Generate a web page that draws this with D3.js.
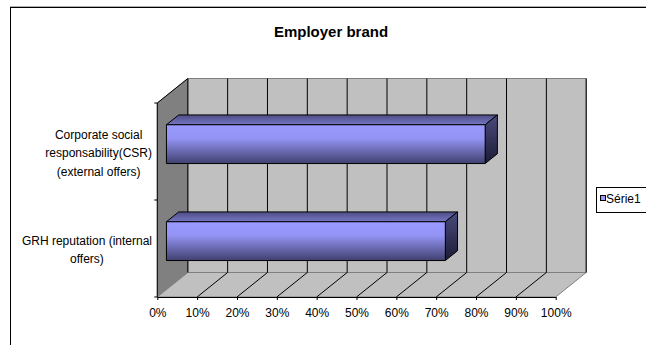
<!DOCTYPE html>
<html>
<head>
<meta charset="utf-8">
<script src="https://cdn.jsdelivr.net/npm/d3@7"></script>
<style>
  html, body { margin: 0; padding: 0; background: #fff; }
  svg { display: block; font-family: "Liberation Sans", Arial, sans-serif; }
</style>
</head>
<body>
<svg id="chart" width="646" height="345"></svg>
<script>
// Chart data
const title = "Employer brand";
const categories = [
  "GRH reputation (internal offers)",
  "Corporate social responsability(CSR) (external offers)"
];
const categoryLines = [
  ["GRH reputation (internal", "offers)"],
  ["Corporate social", "responsability(CSR)", "(external offers)"]
];
const seriesName = "Série1";
const values = [0.70, 0.80];
const xTicks = [0, 0.1, 0.2, 0.3, 0.4, 0.5, 0.6, 0.7, 0.8, 0.9, 1.0];

const svg = d3.select("#chart");

// Plot frame (front plane) and 3D depth offset
const front = { left: 157.3, right: 555.7, top: 103, bottom: 297 };
const DX = 30.5, DY = -24.5;
const barDepth = [0.3, 0.7];

const x = d3.scaleLinear().domain([0, 1]).range([front.left, front.right]);
// first category sits at the bottom
const y = d3.scaleBand()
  .domain(categories.slice().reverse())
  .range([front.top, front.bottom])
  .paddingInner(0.6)
  .paddingOuter(0.3);

const P = (px, py, d) => [px + d * DX, py + d * DY];
const poly = pts => pts.map(p => p.join(",")).join(" ");

// Outer chart border (top and left edges)
svg.append("line").attr("x1", 10).attr("x2", 646).attr("y1", 6.5).attr("y2", 6.5)
  .attr("stroke", "#b0b0b0").attr("stroke-width", 1);
svg.append("line").attr("x1", 10).attr("x2", 646).attr("y1", 7.5).attr("y2", 7.5)
  .attr("stroke", "#000").attr("stroke-width", 1);
svg.append("line").attr("x1", 10.5).attr("x2", 10.5).attr("y1", 7).attr("y2", 345)
  .attr("stroke", "#000").attr("stroke-width", 1);

// Title
svg.append("text").attr("x", 331).attr("y", 36.5)
  .attr("text-anchor", "middle").attr("font-size", 15).attr("font-weight", "bold")
  .text(title);

const g = svg.append("g");
const x0 = x(0), x1 = x(1);

// Back wall
const bw = [P(x0, front.top, 1), P(x1, front.top, 1), P(x1, front.bottom, 1), P(x0, front.bottom, 1)];
g.append("polygon").attr("points", poly(bw)).attr("fill", "#c0c0c0").attr("stroke", "#808080");

// Side wall
const sw = [P(x0, front.top, 0), P(x0, front.top, 1), P(x0, front.bottom, 1), P(x0, front.bottom, 0)];
g.append("polygon").attr("points", poly(sw)).attr("fill", "#808080").attr("stroke", "#808080");

// Floor
const fl = [P(x0, front.bottom, 0), P(x1, front.bottom, 0), P(x1, front.bottom, 1), P(x0, front.bottom, 1)];
g.append("polygon").attr("points", poly(fl)).attr("fill", "#c0c0c0").attr("stroke", "#808080");

// Gridlines on back wall and floor
xTicks.forEach(t => {
  const a = P(x(t), front.top, 1), b = P(x(t), front.bottom, 1), c = P(x(t), front.bottom, 0);
  g.append("line").attr("x1", a[0]).attr("y1", a[1]).attr("x2", b[0]).attr("y2", b[1])
    .attr("stroke", "#000").attr("stroke-width", 1);
  if (t > 0 && t < 1) {
    g.append("line").attr("x1", b[0]).attr("y1", b[1]).attr("x2", c[0]).attr("y2", c[1])
      .attr("stroke", "#000").attr("stroke-width", 1);
  }
});

// Side wall top edge
const st0 = P(x0, front.top, 0), st1 = P(x0, front.top, 1);
g.append("line").attr("x1", st0[0]).attr("y1", st0[1]).attr("x2", st1[0]).attr("y2", st1[1])
  .attr("stroke", "#000");

// Gradients for bar faces
const defs = svg.append("defs");
const lg = (id, stops) => {
  const gr = defs.append("linearGradient").attr("id", id)
    .attr("x1", 0).attr("y1", 0).attr("x2", 0).attr("y2", 1);
  stops.forEach(s => gr.append("stop").attr("offset", s[0]).attr("stop-color", s[1]));
};
lg("gFront", [[0, "#9999ff"], [0.35, "#9494f5"], [1, "#40406e"]]);
lg("gTop", [[0, "#4d4d85"], [1, "#7676c4"]]);
lg("gSide", [[0, "#4a4a7e"], [1, "#1c1c35"]]);

// Bars
const bars = g.append("g");
categories.forEach((cat, i) => {
  const v = values[i];
  const yt = y(cat), yb = y(cat) + y.bandwidth();
  const [d0, d1] = barDepth;
  const fTL = P(x0, yt, d0), fTR = P(x(v), yt, d0), fBR = P(x(v), yb, d0), fBL = P(x0, yb, d0);
  const bTL = P(x0, yt, d1), bTR = P(x(v), yt, d1), bBR = P(x(v), yb, d1);
  bars.append("polygon").attr("points", poly([fTL, bTL, bTR, fTR]))
    .attr("fill", "url(#gTop)").attr("stroke", "#000").attr("stroke-width", 1);
  bars.append("polygon").attr("points", poly([fTR, bTR, bBR, fBR]))
    .attr("fill", "url(#gSide)").attr("stroke", "#000").attr("stroke-width", 1);
  bars.append("polygon").attr("points", poly([fTL, fTR, fBR, fBL]))
    .attr("fill", "url(#gFront)").attr("stroke", "#000").attr("stroke-width", 1);
});

// X axis
const xAxis = d3.axisBottom(x).tickValues(xTicks).tickFormat(d3.format(".0%"))
  .tickSize(3).tickSizeOuter(0).tickPadding(8.5);
const xa = svg.append("g").attr("transform", `translate(0,${front.bottom})`).call(xAxis);
xa.select(".domain").attr("stroke", "#000");
xa.selectAll(".tick line").attr("stroke", "#000");
xa.selectAll(".tick text").attr("font-size", 12).attr("fill", "#000")
  .attr("font-family", "Liberation Sans, Arial, sans-serif");

// Y axis line and ticks at category boundaries
const ya = svg.append("g");
ya.append("line").attr("x1", x0).attr("x2", x0).attr("y1", front.top).attr("y2", front.bottom)
  .attr("stroke", "#000");
const step = y.step();
d3.range(categories.length + 1).forEach(k => {
  const yy = front.top + k * (front.bottom - front.top) / categories.length;
  ya.append("line").attr("x1", x0 - 3).attr("x2", x0).attr("y1", yy).attr("y2", yy)
    .attr("stroke", "#000");
});

// Category labels, centred as a block to the left of the axis
const lineH = 18.3;
categories.forEach((cat, i) => {
  const lines = categoryLines[i];
  const cy = y(cat) + y.bandwidth() / 2 + 1.5;
  const t = ya.append("text").attr("font-size", 12).attr("fill", "#000")
    .attr("text-anchor", "middle");
  const spans = lines.map((ln, j) => t.append("tspan")
    .attr("y", cy + (j - (lines.length - 1) / 2) * lineH)
    .attr("dy", "0.35em").text(ln));
  const maxW = d3.max(spans, s => s.node().getComputedTextLength());
  spans.forEach(s => s.attr("x", 152 - maxW / 2));
});

// Legend
const leg = svg.append("g");
leg.append("rect").attr("x", 596.5).attr("y", 187.5).attr("width", 60).attr("height", 25)
  .attr("fill", "#fff").attr("stroke", "#000");
leg.append("rect").attr("x", 600.5).attr("y", 195.5).attr("width", 5).attr("height", 5)
  .attr("fill", "#9999ff").attr("stroke", "#000");
leg.append("text").attr("x", 606).attr("y", 202.5).attr("font-size", 12).attr("fill", "#000")
  .text(seriesName);
</script>
</body>
</html>
